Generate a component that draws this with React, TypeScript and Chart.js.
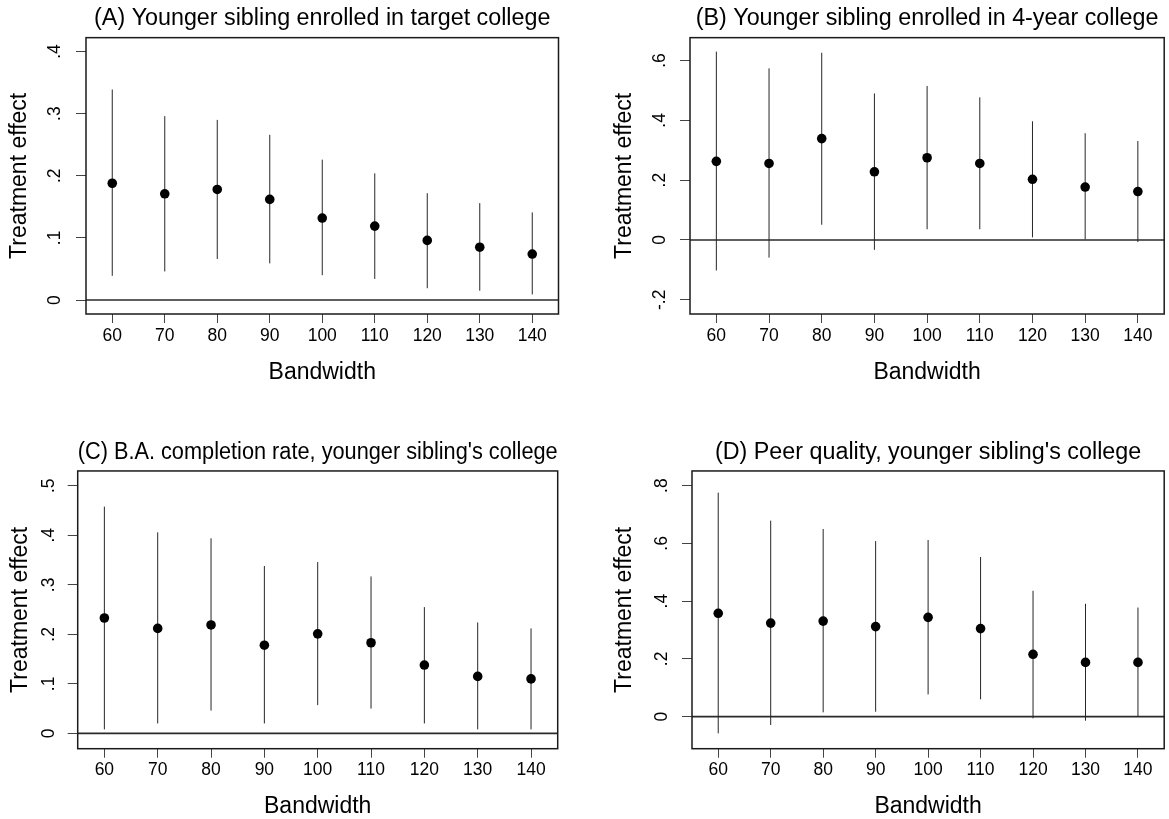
import React, { useEffect, useRef } from 'react';
import { Chart, registerables } from 'chart.js';

Chart.register(...registerables);

// ---------- data ----------
const bandwidths = [60, 70, 80, 90, 100, 110, 120, 130, 140];
const xTicks = [60, 70, 80, 90, 100, 110, 120, 130, 140];

// (A) Younger sibling enrolled in target college
const estA = [0.188, 0.171, 0.178, 0.162, 0.132, 0.119, 0.096, 0.085, 0.074];
const loA = [0.039, 0.046, 0.066, 0.059, 0.040, 0.034, 0.019, 0.015, 0.009];
const hiA = [0.339, 0.296, 0.290, 0.266, 0.226, 0.204, 0.172, 0.156, 0.141];
const yTicksA = [0, 0.1, 0.2, 0.3, 0.4];

// (B) Younger sibling enrolled in 4-year college
const estB = [0.263, 0.256, 0.339, 0.228, 0.275, 0.256, 0.203, 0.177, 0.162];
const loB = [-0.102, -0.059, 0.051, -0.033, 0.036, 0.036, 0.009, 0.002, -0.007];
const hiB = [0.630, 0.574, 0.626, 0.490, 0.515, 0.477, 0.397, 0.357, 0.331];
const yTicksB = [-0.2, 0, 0.2, 0.4, 0.6];

// (C) B.A. completion rate, younger sibling's college
const estC = [0.233, 0.212, 0.219, 0.178, 0.201, 0.183, 0.138, 0.115, 0.110];
const loC = [0.008, 0.020, 0.046, 0.020, 0.057, 0.050, 0.020, 0.008, 0.008];
const hiC = [0.458, 0.406, 0.394, 0.338, 0.346, 0.317, 0.255, 0.224, 0.212];
const yTicksC = [0, 0.1, 0.2, 0.3, 0.4, 0.5];

// (D) Peer quality, younger sibling's college
const estD = [0.358, 0.324, 0.331, 0.312, 0.344, 0.305, 0.216, 0.188, 0.188];
const loD = [-0.058, -0.029, 0.015, 0.017, 0.077, 0.060, -0.006, -0.014, 0.0];
const hiD = [0.776, 0.679, 0.650, 0.608, 0.612, 0.553, 0.436, 0.391, 0.378];
const yTicksD = [0, 0.2, 0.4, 0.6, 0.8];

const titleA = '(A) Younger sibling enrolled in target college';
const titleB = '(B) Younger sibling enrolled in 4-year college';
const titleC = "(C) B.A. completion rate, younger sibling's college";
const titleD = "(D) Peer quality, younger sibling's college";
const xTitle = 'Bandwidth';
const yTitle = 'Treatment effect';

// ---------- layout (positions / styles) ----------
const FONT = '"Liberation Sans", Arial, Helvetica, sans-serif';

type PanelCfg = {
  title: string;
  est: number[];
  lo: number[];
  hi: number[];
  yTicks: number[];
  yMin: number;
  yMax: number;
  left: number;
  top: number;
  w: number;
  h: number;
  yAxisW: number;
  xAxisH: number;
  padRight: number;
  titlePadTop: number;
  titlePadBottom: number;
  yTitlePad: number;
  xTitlePad: number;
  yLabelOffset: number;
};

const panels: PanelCfg[] = [
  {
    title: titleA, est: estA, lo: loA, hi: hiA, yTicks: yTicksA, yMin: -0.0225, yMax: 0.4224,
    left: 0, top: 0, w: 585, h: 410, yAxisW: 86, xAxisH: 96, padRight: 26.5,
    titlePadTop: 4.3, titlePadBottom: 5.4, yTitlePad: 8.5, xTitlePad: 25.8, yLabelOffset: 31,
  },
  {
    title: titleB, est: estB, lo: loB, hi: hiB, yTicks: yTicksB, yMin: -0.2475, yMax: 0.6766,
    left: 585, top: 0, w: 584, h: 410, yAxisW: 105, xAxisH: 96, padRight: 3,
    titlePadTop: 4.3, titlePadBottom: 5.4, yTitlePad: 27.7, xTitlePad: 25.8, yLabelOffset: 30,
  },
  {
    title: titleC, est: estC, lo: loC, hi: hiC, yTicks: yTicksC, yMin: -0.031, yMax: 0.530,
    left: 0, top: 410, w: 585, h: 409, yAxisW: 77.7, xAxisH: 70.3, padRight: 27.3,
    titlePadTop: 28.7, titlePadBottom: 4.3, yTitlePad: 8.7, xTitlePad: 0.8, yLabelOffset: 29,
  },
  {
    title: titleD, est: estD, lo: loD, hi: hiD, yTicks: yTicksD, yMin: -0.111, yMax: 0.851,
    left: 585, top: 410, w: 584, h: 409, yAxisW: 107, xAxisH: 70.3, padRight: 3,
    titlePadTop: 28.7, titlePadBottom: 4.3, yTitlePad: 27.7, xTitlePad: 0.8, yLabelOffset: 30,
  },
];

function fmtTick(v: number): string {
  if (Math.abs(v) < 1e-9) return '0';
  const s = String(Math.round(Math.abs(v) * 1000) / 1000).replace(/^0\./, '.');
  return (v < 0 ? '-' : '') + s;
}

const framePlugin = {
  id: 'frame',
  beforeDatasetsDraw(chart: any) {
    const { ctx, chartArea: a, scales } = chart;
    const y0 = scales.y.getPixelForValue(0);
    ctx.save();
    ctx.strokeStyle = '#2a2a2a';
    ctx.lineWidth = 1.6;
    ctx.beginPath();
    ctx.moveTo(a.left, y0);
    ctx.lineTo(a.right, y0);
    ctx.stroke();
    ctx.restore();
  },
  afterDatasetsDraw(chart: any) {
    const { ctx, chartArea: a } = chart;
    ctx.save();
    ctx.strokeStyle = '#1a1a1a';
    ctx.lineWidth = 1.5;
    ctx.strokeRect(a.left, a.top, a.right - a.left, a.bottom - a.top);
    ctx.restore();
  },
  afterDraw(chart: any, _args: any, opts: any) {
    const { ctx, chartArea: a, scales } = chart;
    const yScale = scales.y;
    ctx.save();
    ctx.fillStyle = '#000';
    ctx.font = `17.5px ${FONT}`;
    ctx.textAlign = 'center';
    ctx.textBaseline = 'middle';
    for (const t of yScale.ticks) {
      const py = yScale.getPixelForValue(t.value);
      ctx.save();
      ctx.translate(a.left - opts.offset, py);
      ctx.rotate(-Math.PI / 2);
      ctx.fillText(fmtTick(t.value), 0, 0);
      ctx.restore();
    }
    ctx.restore();
  },
};

function Panel({ cfg }: { cfg: PanelCfg }) {
  const ref = useRef<HTMLCanvasElement>(null);
  useEffect(() => {
    const points = bandwidths.map((x, i) => ({ x, y: cfg.est[i] }));
    const ciSegments: { x: number; y: number | null }[] = [];
    bandwidths.forEach((x, i) => {
      ciSegments.push({ x, y: cfg.lo[i] });
      ciSegments.push({ x, y: cfg.hi[i] });
      ciSegments.push({ x, y: null });
    });

    const chart = new Chart(ref.current!, {
      type: 'scatter',
      data: {
        datasets: [
          {
            data: points,
            pointRadius: 4.8,
            pointBackgroundColor: '#000',
            pointBorderWidth: 0,
            showLine: false,
          } as any,
          {
            data: ciSegments,
            showLine: true,
            spanGaps: false,
            borderColor: '#262626',
            borderWidth: 1,
            pointRadius: 0,
          } as any,
        ],
      },
      options: {
        animation: false,
        responsive: false,
        devicePixelRatio: 1,
        layout: { padding: { left: 0, right: cfg.padRight, top: 0, bottom: 0 } },
        plugins: {
          legend: { display: false },
          tooltip: { enabled: false },
          title: {
            display: true,
            text: cfg.title,
            fullSize: false,
            color: '#000',
            font: { family: FONT, size: 23.3, weight: 'normal', lineHeight: 1.2 },
            padding: { top: cfg.titlePadTop, bottom: cfg.titlePadBottom },
          },
          frame: { offset: cfg.yLabelOffset },
        } as any,
        scales: {
          x: {
            type: 'linear',
            min: 55,
            max: 145,
            afterBuildTicks: (s: any) => {
              s.ticks = xTicks.map((v) => ({ value: v }));
            },
            afterFit: (s: any) => {
              s.height = cfg.xAxisH;
            },
            grid: { drawOnChartArea: false, drawTicks: true, tickLength: 9, color: '#444', lineWidth: 1 },
            border: { display: false },
            ticks: {
              autoSkip: false,
              maxRotation: 0,
              minRotation: 0,
              padding: 2.3,
              color: '#000',
              font: { family: FONT, size: 17.5, lineHeight: 1.2 },
            },
            title: {
              display: true,
              text: xTitle,
              color: '#000',
              font: { family: FONT, size: 23, lineHeight: 1 },
              padding: { top: 0, bottom: cfg.xTitlePad },
            },
          },
          y: {
            type: 'linear',
            min: cfg.yMin,
            max: cfg.yMax,
            afterBuildTicks: (s: any) => {
              s.ticks = cfg.yTicks.map((v) => ({ value: v }));
            },
            afterFit: (s: any) => {
              s.width = cfg.yAxisW;
            },
            grid: { drawOnChartArea: false, drawTicks: true, tickLength: 10, color: '#444', lineWidth: 1 },
            border: { display: false },
            ticks: { display: false },
            title: {
              display: true,
              text: yTitle,
              color: '#000',
              font: { family: FONT, size: 23, lineHeight: 1 },
              padding: { top: cfg.yTitlePad, bottom: 0 },
            },
          },
        } as any,
      },
      plugins: [framePlugin as any],
    });
    return () => chart.destroy();
  }, [cfg]);

  return (
    <canvas
      ref={ref}
      width={cfg.w}
      height={cfg.h}
      style={{ position: 'absolute', left: cfg.left, top: cfg.top, width: cfg.w, height: cfg.h }}
    />
  );
}

export default function App() {
  return (
    <div
      style={{
        position: 'fixed',
        left: 0,
        top: 0,
        width: 1169,
        height: 819,
        background: '#fff',
        overflow: 'hidden',
      }}
    >
      {panels.map((p, i) => (
        <Panel key={i} cfg={p} />
      ))}
    </div>
  );
}
